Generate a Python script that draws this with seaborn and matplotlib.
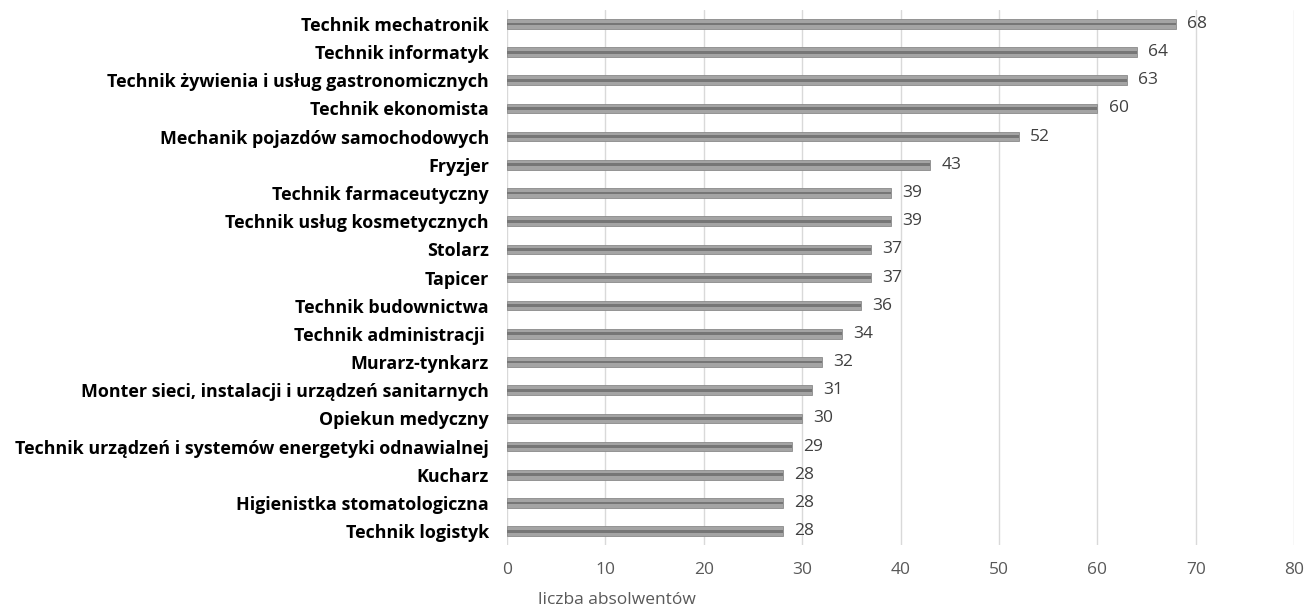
import matplotlib
matplotlib.use("Agg")
import matplotlib.pyplot as plt
import pandas as pd
import seaborn as sns

zawody = [
    "Technik mechatronik",
    "Technik informatyk",
    "Technik żywienia i usług gastronomicznych",
    "Technik ekonomista",
    "Mechanik pojazdów samochodowych",
    "Fryzjer",
    "Technik farmaceutyczny",
    "Technik usług kosmetycznych",
    "Stolarz",
    "Tapicer",
    "Technik budownictwa",
    "Technik administracji ",
    "Murarz-tynkarz",
    "Monter sieci, instalacji i urządzeń sanitarnych",
    "Opiekun medyczny",
    "Technik urządzeń i systemów energetyki odnawialnej",
    "Kucharz",
    "Higienistka stomatologiczna",
    "Technik logistyk",
]
absolwenci = [68, 64, 63, 60, 52, 43, 39, 39, 37, 37, 36, 34, 32, 31, 30, 29, 28, 28, 28]
x_ticks = [0, 10, 20, 30, 40, 50, 60, 70, 80]

df = pd.DataFrame({"zawod": zawody, "liczba": absolwenci})

sns.set_theme(style="white")
plt.rcParams["font.family"] = ["Open Sans", "DejaVu Sans"]

fig = plt.figure(figsize=(13.1, 6.14), dpi=100)
ax = fig.add_axes([0.387, 0.112, 0.601, 0.872])

ax.set_axisbelow(True)
ax.xaxis.grid(True, color="#d9d9d9", linewidth=1)

sns.barplot(data=df, y="zawod", x="liczba", orient="h", width=0.34,
            color="#a4a4a4", edgecolor="#8a8a8a", linewidth=0.6,
            saturation=1, ax=ax)
# darker centre stripe for the cylinder look
ax.barh(range(len(zawody)), df["liczba"], height=0.1, color="#767676",
        linewidth=0, zorder=3)

ax.bar_label(ax.containers[0], padding=8, fontsize=12.5, color="#404040")

ax.set_xlim(0, 80)
ax.set_xticks(x_ticks)
ax.set_ylim(len(zawody) - 0.5, -0.5)
ax.tick_params(axis="x", labelsize=12.5, labelcolor="#595959", length=0, pad=12)
ax.tick_params(axis="y", labelsize=12.9, length=0, pad=13)
for lab in ax.get_yticklabels():
    lab.set_fontweight("bold")
    lab.set_color("black")

ax.set_ylabel("")
ax.set_xlabel("liczba absolwentów", fontsize=12.5, color="#595959")
ax.xaxis.set_label_coords(0.14, -0.088)
for s in ax.spines.values():
    s.set_visible(False)

fig.savefig("out.png", dpi=100)
